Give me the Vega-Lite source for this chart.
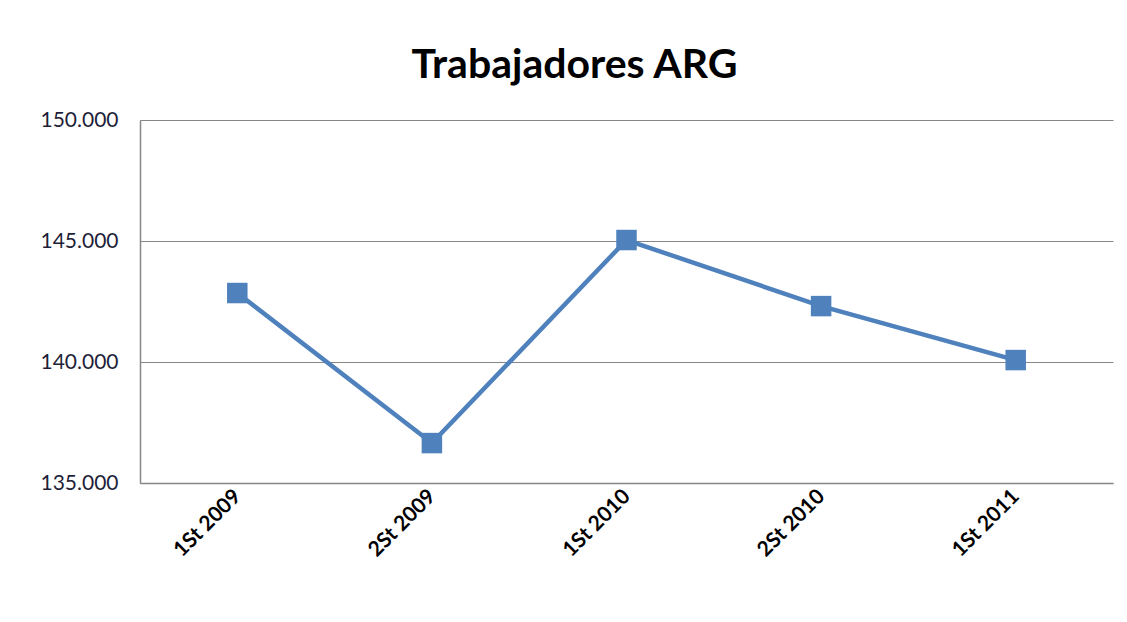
{
  "$schema": "https://vega.github.io/schema/vega-lite/v6.json",
  "autosize": "none",
  "width": 973,
  "height": 363,
  "padding": {"left": 140, "top": 120, "right": 14, "bottom": 139},
  "background": "white",
  "config": {"view": {"stroke": null}},
  "title": {
    "text": "Trabajadores ARG",
    "fontSize": 41,
    "font": "Lato",
    "fontWeight": "bold",
    "color": "#000000",
    "anchor": "middle",
    "dx": -52,
    "offset": 22
  },
  "data": {
    "values": [
      {"periodo": "1St 2009", "trabajadores": 142850},
      {"periodo": "2St 2009", "trabajadores": 136650},
      {"periodo": "1St 2010", "trabajadores": 145040},
      {"periodo": "2St 2010", "trabajadores": 142310},
      {"periodo": "1St 2011", "trabajadores": 140080}
    ]
  },
  "encoding": {
    "x": {
      "field": "periodo",
      "type": "ordinal",
      "sort": null,
      "scale": {"type": "point", "padding": 0.5},
      "axis": {
        "title": null,
        "labelAngle": -45,
        "labelAlign": "right",
        "labelBaseline": "middle",
        "labelFont": "Lato",
        "labelFontWeight": "bold",
        "labelFontSize": 21,
        "labelColor": "#000000",
        "labelPadding": 10,
        "ticks": false,
        "domainColor": "#868686",
        "domainWidth": 1.5,
        "grid": false
      }
    },
    "y": {
      "field": "trabajadores",
      "type": "quantitative",
      "scale": {"domain": [135000, 150000], "nice": false, "zero": false},
      "axis": {
        "title": null,
        "values": [135000, 140000, 145000, 150000],
        "labelExpr": "replace(format(datum.value, ',.0f'), ',', '.')",
        "labelFont": "Lato",
        "labelFontSize": 21,
        "labelColor": "#1f1f3a",
        "labelPadding": 22,
        "ticks": false,
        "domainColor": "#868686",
        "domainWidth": 1.5,
        "gridColor": "#868686",
        "gridWidth": 1.2,
        "gridOpacity": 1
      }
    }
  },
  "layer": [
    {"mark": {"type": "line", "color": "#4F81BD", "strokeWidth": 4.5}},
    {"mark": {"type": "point", "shape": "square", "filled": true, "opacity": 1, "size": 420, "color": "#4F81BD"}}
  ]
}
